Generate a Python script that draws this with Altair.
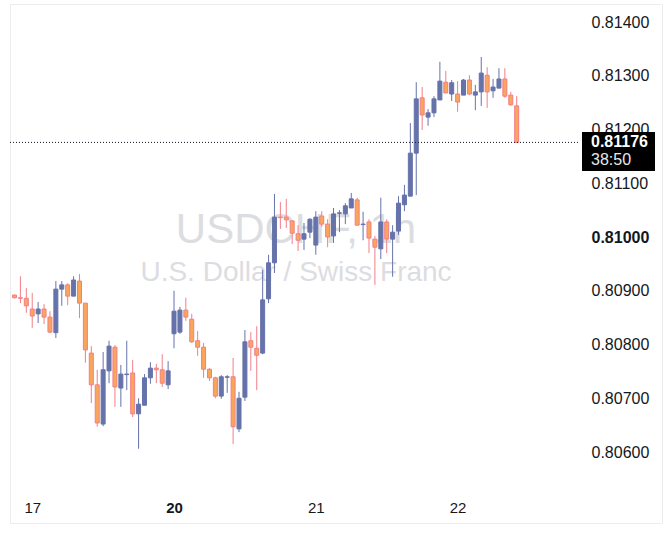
import altair as alt
import pandas as pd

# USD/CHF hourly candles (oldest first)
opens = [0.80892, 0.80887, 0.80886, 0.80866, 0.80857, 0.80866, 0.80851, 0.80822, 0.80903, 0.80911,
         0.80890, 0.80918, 0.80877, 0.80784, 0.80725, 0.80652, 0.80751, 0.80795, 0.80719, 0.80744,
         0.80747, 0.80671, 0.80687, 0.80738, 0.80756, 0.80753, 0.80725, 0.80820, 0.80823, 0.80864,
         0.80847, 0.80807, 0.80795, 0.80754, 0.80738, 0.80704, 0.80739, 0.80740, 0.80643, 0.80702,
         0.80807, 0.80793, 0.80784, 0.80885, 0.80952, 0.81037, 0.81037, 0.81030, 0.81006, 0.80996,
         0.81009, 0.80985, 0.81039, 0.81024, 0.81002, 0.81044, 0.81043, 0.81054, 0.81069, 0.81023,
         0.81028, 0.80996, 0.80978, 0.81028, 0.80996, 0.81011, 0.81060, 0.81076, 0.81156, 0.81259,
         0.81223, 0.81231, 0.81255, 0.81288, 0.81266, 0.81266, 0.81264, 0.81292, 0.81264, 0.81270,
         0.81301, 0.81272, 0.81277, 0.81294, 0.81264, 0.81244]
highs = [0.80893, 0.80927, 0.80905, 0.80896, 0.80879, 0.80875, 0.80862, 0.80918, 0.80918, 0.80914,
         0.80927, 0.80931, 0.80877, 0.80797, 0.80753, 0.80786, 0.80807, 0.80799, 0.80762, 0.80807,
         0.80771, 0.80700, 0.80745, 0.80767, 0.80764, 0.80782, 0.80769, 0.80900, 0.80870, 0.80887,
         0.80857, 0.80825, 0.80803, 0.80756, 0.80740, 0.80743, 0.80743, 0.80775, 0.80712, 0.80827,
         0.80823, 0.80834, 0.80939, 0.80967, 0.81080, 0.81065, 0.81071, 0.81030, 0.81022, 0.81026,
         0.81035, 0.81048, 0.81048, 0.81033, 0.81054, 0.81050, 0.81063, 0.81082, 0.81073, 0.81047,
         0.81033, 0.81002, 0.81073, 0.81033, 0.81022, 0.81076, 0.81097, 0.81212, 0.81288, 0.81279,
         0.81238, 0.81262, 0.81326, 0.81309, 0.81292, 0.81290, 0.81294, 0.81301, 0.81283, 0.81335,
         0.81316, 0.81294, 0.81314, 0.81314, 0.81270, 0.81262]
lows = [0.80886, 0.80877, 0.80859, 0.80831, 0.80840, 0.80838, 0.80821, 0.80812, 0.80872, 0.80873,
        0.80890, 0.80849, 0.80766, 0.80691, 0.80647, 0.80648, 0.80728, 0.80684, 0.80684, 0.80715,
        0.80665, 0.80606, 0.80687, 0.80727, 0.80728, 0.80721, 0.80717, 0.80793, 0.80820, 0.80844,
        0.80803, 0.80779, 0.80738, 0.80732, 0.80700, 0.80699, 0.80710, 0.80615, 0.80637, 0.80695,
        0.80751, 0.80715, 0.80782, 0.80877, 0.80933, 0.81015, 0.81017, 0.80987, 0.80974, 0.80976,
        0.80998, 0.80967, 0.81019, 0.80981, 0.80989, 0.81009, 0.81024, 0.81054, 0.81022, 0.80994,
        0.80970, 0.80911, 0.80959, 0.80970, 0.80926, 0.81004, 0.81048, 0.81076, 0.81078, 0.81199,
        0.81207, 0.81223, 0.81255, 0.81268, 0.81253, 0.81233, 0.81264, 0.81264, 0.81236, 0.81244,
        0.81240, 0.81259, 0.81277, 0.81259, 0.81244, 0.81176]
closes = [0.80887, 0.80886, 0.80872, 0.80853, 0.80866, 0.80851, 0.80823, 0.80903, 0.80911, 0.80890,
          0.80920, 0.80877, 0.80790, 0.80725, 0.80654, 0.80753, 0.80797, 0.80721, 0.80745, 0.80745,
          0.80671, 0.80689, 0.80738, 0.80756, 0.80753, 0.80728, 0.80751, 0.80862, 0.80864, 0.80851,
          0.80805, 0.80795, 0.80754, 0.80738, 0.80704, 0.80740, 0.80740, 0.80647, 0.80700, 0.80805,
          0.80795, 0.80780, 0.80883, 0.80952, 0.81037, 0.81036, 0.81032, 0.81007, 0.80994, 0.81006,
          0.81033, 0.81037, 0.81024, 0.81000, 0.81043, 0.81045, 0.81058, 0.81071, 0.81022, 0.81024,
          0.80998, 0.80981, 0.81028, 0.80996, 0.81009, 0.81063, 0.81078, 0.81156, 0.81257, 0.81227,
          0.81231, 0.81257, 0.81290, 0.81268, 0.81287, 0.81251, 0.81292, 0.81266, 0.81270, 0.81305,
          0.81270, 0.81279, 0.81294, 0.81262, 0.81246, 0.81176]

# day boundaries on the time scale (candle index -> day of month)
day_ticks = [3, 27, 51, 75]
day_labels = ["17", "20", "21", "22"]
bold_day = 27

price_ticks = [0.806, 0.807, 0.808, 0.809, 0.810, 0.811, 0.812, 0.813, 0.814]
bold_price = 0.810

symbol_title = "USDCHF, 1h"
symbol_name = "U.S. Dollar / Swiss Franc"
countdown = "38:50"

UP = "#6673aa"
DOWN_FILL = "#f9a65a"
DOWN_EDGE = "#f27e88"
INK = "#131722"
FONT = "Liberation Sans"

df = pd.DataFrame({
    "idx": list(range(len(opens))),
    "open": opens, "high": highs, "low": lows, "close": closes,
})
df["dir"] = ["up" if c >= o else "down" for o, c in zip(opens, closes)]

last_price = closes[-1]
# one-row table for the single annotations
one = pd.DataFrame({"price": [last_price]})

label_expr = " : ".join(
    f"datum.value == {v} ? '{t}'" for v, t in zip(day_ticks, day_labels)
) + " : ''"

x_scale = alt.Scale(domain=[0.5 / 6, 0.5 / 6 + 652 / 6], nice=False, zero=False)
y_scale = alt.Scale(domain=[0.81 - 286 / 53750, 0.81 + 233 / 53750], nice=False, zero=False)

x_enc = alt.X(
    "idx:Q", scale=x_scale, title=None,
    axis=alt.Axis(
        values=day_ticks, labelExpr=label_expr, orient="bottom", offset=-16,
        domain=False, ticks=False, grid=False, labelPadding=0, labelFlush=False,
        labelAlign="center", labelBaseline="middle", labelFontSize=15, labelFont=FONT,
        labelColor=INK,
        labelFontWeight={"condition": {"test": f"datum.value == {bold_day}", "value": "bold"},
                         "value": "normal"},
    ),
)
y_axis = alt.Axis(
    values=price_ticks, format=".5f", orient="right", offset=-72,
    domain=False, ticks=False, grid=False, labelPadding=1, labelAlign="left",
    labelFlush=False, labelBaseline="middle", labelFontSize=16, labelFont=FONT,
    labelColor=INK,
    labelFontWeight={"condition": {"test": f"abs(datum.value - {bold_price}) < 1e-9", "value": "bold"},
                     "value": "normal"},
)

color_dir = alt.Scale(domain=["up", "down"], range=[UP, DOWN_EDGE])
fill_dir = alt.Scale(domain=["up", "down"], range=[UP, DOWN_FILL])

base = alt.Chart(df)

wicks = base.mark_rule(strokeWidth=1, clip=True).encode(
    x=x_enc,
    y=alt.Y("low:Q", scale=y_scale, axis=y_axis, title=None),
    y2="high:Q",
    color=alt.Color("dir:N", scale=color_dir, legend=None),
)

bodies = base.mark_bar(size=4, strokeWidth=1, clip=True).encode(
    x=x_enc,
    y=alt.Y("open:Q", scale=y_scale, title=None),
    y2="close:Q",
    fill=alt.Fill("dir:N", scale=fill_dir, legend=None),
    stroke=alt.Stroke("dir:N", scale=color_dir, legend=None),
)

# symbol watermark
wm1 = alt.Chart(one).mark_text(
    text=symbol_title, fontSize=42, font=FONT, color="#dcdde1", align="center", baseline="alphabetic"
).encode(x=alt.value(286), y=alt.value(239))
wm2 = alt.Chart(one).mark_text(
    text=symbol_name, fontSize=28, font=FONT, color="#dcdde1", align="center", baseline="alphabetic"
).encode(x=alt.value(286), y=alt.value(277))

last_line = alt.Chart(one).mark_rule(strokeDash=[1, 2], color=INK, strokeWidth=1).encode(
    x=alt.value(0), x2=alt.value(570), y=alt.Y("price:Q", scale=y_scale)
)
tag_box = alt.Chart(one).mark_rect(color="black").encode(
    x=alt.value(572), x2=alt.value(645), y=alt.value(128), y2=alt.value(167)
)
tag_price = alt.Chart(one).mark_text(
    fontSize=16, fontWeight="bold", font=FONT, color="white", align="left", baseline="middle"
).encode(x=alt.value(581), y=alt.Y("price:Q", scale=y_scale), text=alt.Text("price:Q", format=".5f"))
tag_time = alt.Chart(one).mark_text(
    text=countdown, fontSize=16, font=FONT, color="#e8e8e8", align="left", baseline="middle", dy=18
).encode(x=alt.value(581), y=alt.Y("price:Q", scale=y_scale))

chart = alt.layer(
    wm1, wm2, wicks, bodies, last_line, tag_box, tag_price, tag_time
).properties(
    width=652, height=519, autosize="none",
    padding={"left": 10, "top": 4, "right": 8, "bottom": 17},
    background="white",
).configure_view(stroke="#ececec", strokeWidth=1)

chart.save("out.html", embed_options={"renderer": "svg", "actions": False})
